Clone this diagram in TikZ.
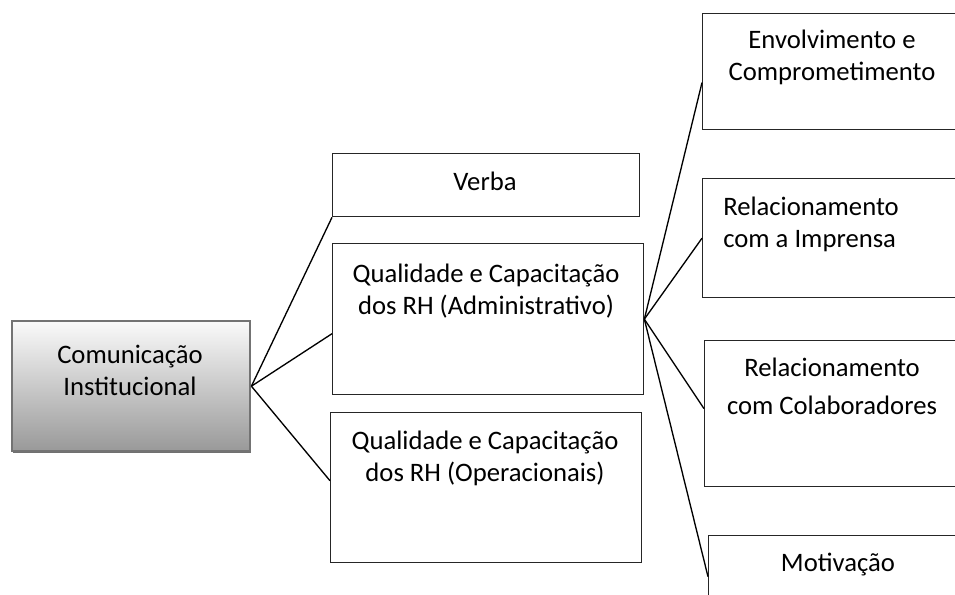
\documentclass[tikz,border=0pt]{standalone}
\usepackage{fontspec}
\setmainfont{Carlito}
\usetikzlibrary{shadows}

\begin{document}
\begin{tikzpicture} [x=0.75pt, y=0.75pt,
				box/.style={
				% The shape:
				rectangle, anchor=north west,
				% The border:
				line width=1pt,
				draw=black!85,
				% The filling:
				fill=white,
				inner sep=0pt
				},
				root/.style={
				% The shape:
				rectangle, anchor=north west,
				% The border:
				line width=1.8pt,
				draw=gray!90!black,
				% The filling:
				top color=gray!4,
				bottom color=gray!80,
				drop shadow={shadow xshift=0.9pt, shadow yshift=-1.4pt, fill=black!70, opacity=0.8},
				inner sep=0pt
				},
				txt/.style={
				% The font:
				font=\fontsize{20}{24}\selectfont,
				inner sep=0pt
				},
				link/.style={
				line width=1pt, draw=black
				},
				]
    \tikzstyle{every node} = [align=center]
    \useasboundingbox (0,0) rectangle (955,594);
    \clip (0,0) rectangle (955,594);
    % left
    \node [root, minimum width=178.5pt, minimum height=97.5pt] (inst) at (11,274) {};
    \node [txt] (insttxt) at (130,224) {Comunicação\\Institucional};
    % middle
    \node [box, minimum width=230.25pt, minimum height=47.25pt] (verba) at (332,441) {};
    \node [txt] (verbatxt) at (485,413) {Verba};
    \node [box, minimum width=233.25pt, minimum height=113.25pt] (adm) at (332,351) {};
    \node [txt] (admtxt) at (486,303) {Qualidade e Capacitação\\dos RH (Administrativo)};
    \node [box, minimum width=233.25pt, minimum height=112.5pt] (oper) at (330,182) {};
    \node [txt] (opertxt) at (485,136) {Qualidade e Capacitação\\dos RH (Operacionais)};
    % right
    \node [box, minimum width=195pt, minimum height=87pt] (envol) at (702,581) {};
    \node [txt] (envoltxt) at (832,536.5) {Envolvimento e\\Comprometimento};
    \node [box, minimum width=195pt, minimum height=89.25pt] (impr) at (702,416) {};
    \node [txt, align=left, anchor=west] (imprtxt) at (723,369.5) {Relacionamento\\com a Imprensa};
    \node [box, minimum width=195pt, minimum height=109.5pt] (colab) at (704,254) {};
    \node [txt] (colabtxt) at (832,208) {Relacionamento\\[4.5pt]com Colaboradores};
    \node [box, minimum width=195pt, minimum height=61.5pt] (motiv) at (708,59) {};
    \node [txt] (motivtxt) at (838,29.5) {Motivação};
    % links
    \draw [link] (inst.east) -- (verba.south west);
    \draw [link] (inst.east) -- ([yshift=-10.9pt]adm.west);
    \draw [link] (inst.east) -- ([yshift=5.2pt]oper.west);
    \draw [link] (adm.east) -- ([yshift=-8.2pt]envol.west);
    \draw [link] (adm.east) -- (impr.west);
    \draw [link] (adm.east) -- ([yshift=3.8pt]colab.west);
    \draw [link] (adm.east) -- (motiv.west);
\end{tikzpicture}
\end{document}
